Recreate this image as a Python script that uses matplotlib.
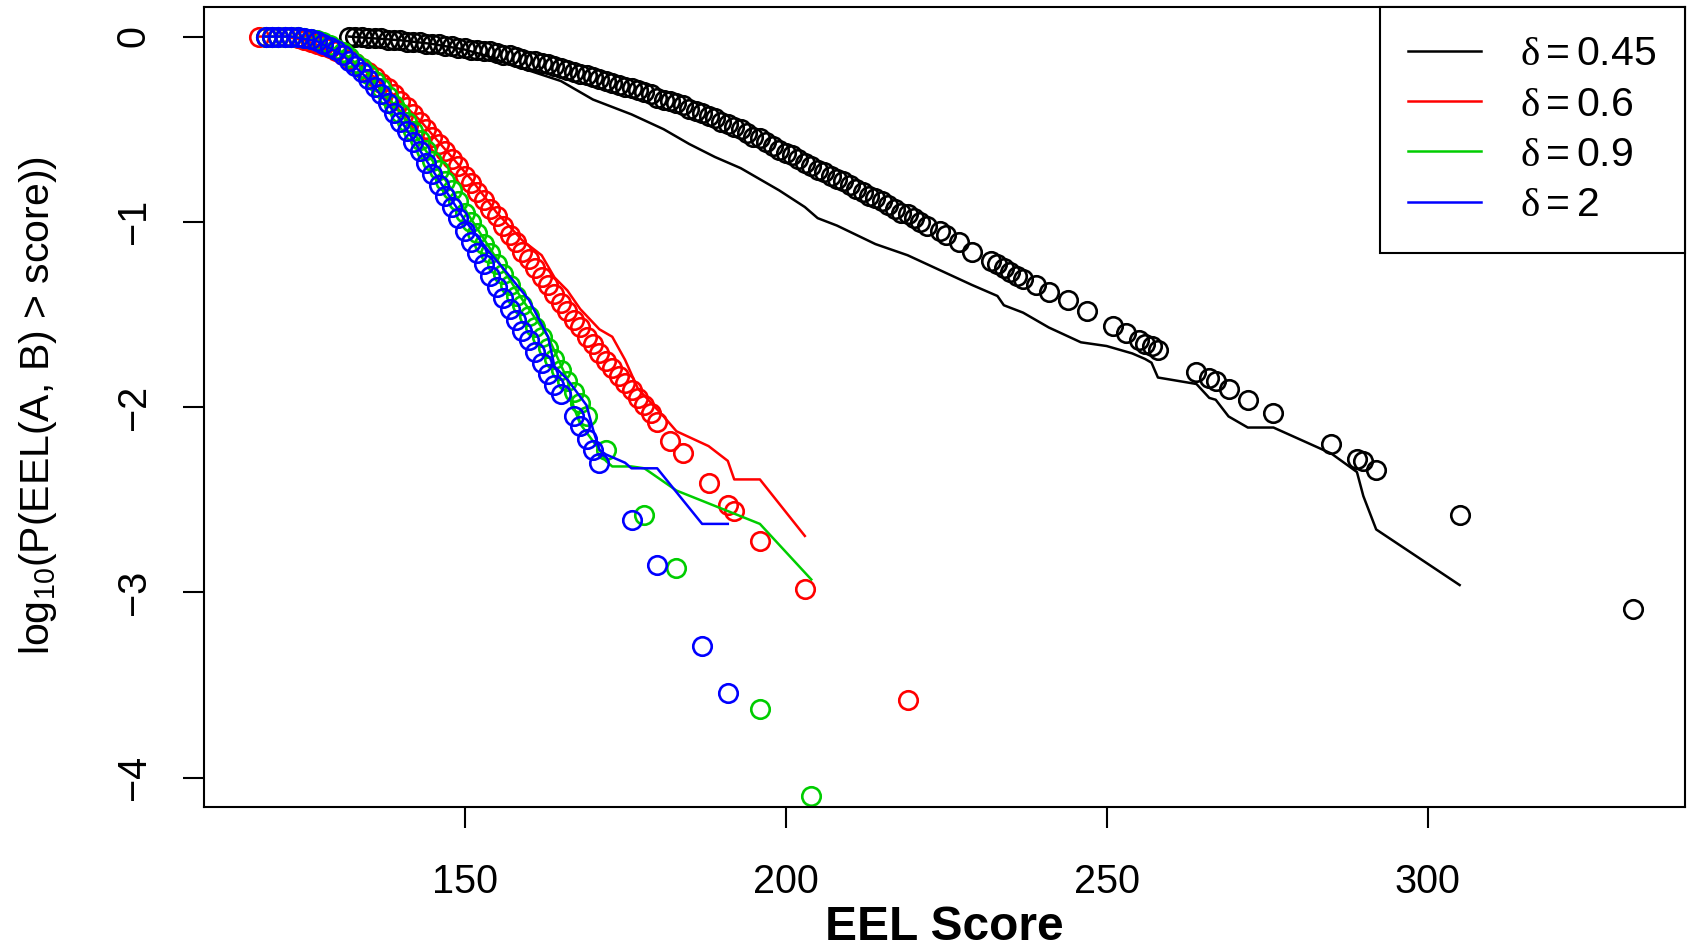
import matplotlib
matplotlib.use("Agg")
import matplotlib.pyplot as plt
from matplotlib.lines import Line2D

plt.rcParams['font.family'] = ['Liberation Sans', 'DejaVu Sans']
plt.rcParams['mathtext.fontset'] = 'custom'
plt.rcParams['mathtext.rm'] = 'Liberation Sans'
plt.rcParams['mathtext.it'] = 'Liberation Serif'
plt.rcParams['mathtext.sf'] = 'Liberation Sans'

# ---- data ----
labels = [r'$\delta = 0.45$', r'$\delta = 0.6$', r'$\delta = 0.9$', r'$\delta = 2$']
colors = ['black', '#FF0000', '#00CD00', '#0000FF']

# delta = 0.45 (black)
black_pts_x = list(range(132, 223)) + [224, 225, 227, 229, 232, 233, 234, 235, 236, 237, 239, 241,
                                       244, 247, 251, 253, 255, 256, 257, 258, 264, 266, 267, 269,
                                       272, 276, 285, 289, 290, 292, 305, 332]
black_pts_y = [0.00, 0.00, 0.00, -0.01, -0.01, -0.01, -0.02, -0.02, -0.02,
               -0.03, -0.03, -0.03, -0.04, -0.04, -0.04, -0.05, -0.05, -0.06, -0.06,
               -0.07, -0.07, -0.08, -0.08, -0.09, -0.10, -0.10, -0.11, -0.12, -0.13,
               -0.13, -0.14, -0.15, -0.16, -0.17, -0.18, -0.19, -0.20, -0.21, -0.22,
               -0.23, -0.24, -0.25, -0.26, -0.27, -0.28, -0.29, -0.30, -0.31, -0.33,
               -0.34, -0.35, -0.36, -0.37, -0.39, -0.40, -0.41, -0.43, -0.44, -0.46,
               -0.47, -0.49, -0.50, -0.52, -0.54, -0.55, -0.57, -0.59, -0.61, -0.63,
               -0.64, -0.66, -0.68, -0.70, -0.72, -0.73, -0.75, -0.77, -0.78, -0.80,
               -0.82, -0.84, -0.86, -0.87, -0.89, -0.91, -0.93, -0.95, -0.96, -0.98,
               -1.00, -1.02,
               -1.05, -1.07, -1.11, -1.16, -1.21, -1.23, -1.25, -1.27, -1.29, -1.31, -1.34, -1.38,
               -1.42, -1.48, -1.56, -1.60, -1.64, -1.66, -1.67, -1.69, -1.81, -1.84, -1.86, -1.90,
               -1.96, -2.03, -2.20, -2.28, -2.29, -2.34, -2.58, -3.09]
black_line_x = [132, 140, 145, 150, 153, 158, 165, 170, 176, 181, 185, 189, 193, 199, 203, 205,
                208, 214, 219, 224, 229, 233, 234, 237, 241, 246, 250, 254, 256, 257, 258, 264,
                266, 267, 269, 272, 276, 285, 289, 290, 292, 305]
black_line_y = [0.0, -0.02, -0.04, -0.07, -0.10, -0.16, -0.24, -0.34, -0.42, -0.50, -0.58, -0.65,
                -0.71, -0.83, -0.92, -0.98, -1.02, -1.12, -1.18, -1.26, -1.34, -1.40, -1.45, -1.49,
                -1.57, -1.65, -1.67, -1.71, -1.74, -1.76, -1.84, -1.875, -1.95, -1.96, -2.05, -2.11,
                -2.11, -2.25, -2.35, -2.48, -2.66, -2.96]

# delta = 0.6 (red)
red_pts_x = list(range(118, 181)) + [182, 184, 188, 191, 192, 196, 203, 219]
red_pts_y = [0, 0, 0, 0, 0,
             -0.005, -0.01, -0.02, -0.03, -0.04, -0.05, -0.06, -0.08,
             -0.10, -0.12, -0.14, -0.17, -0.19, -0.22, -0.25, -0.28, -0.31, -0.35,
             -0.38, -0.42, -0.46, -0.50, -0.54, -0.58, -0.62, -0.66, -0.70, -0.75,
             -0.79, -0.84, -0.88, -0.93, -0.97, -1.02, -1.07, -1.11, -1.16, -1.20,
             -1.25, -1.30, -1.34, -1.39, -1.44, -1.48, -1.53, -1.57, -1.62, -1.66,
             -1.71, -1.75, -1.79, -1.83, -1.87, -1.91, -1.95, -1.99, -2.03, -2.08,
             -2.18, -2.25, -2.41, -2.53, -2.56, -2.72, -2.98, -3.58]
red_line_x = [118, 122, 125, 130, 135, 140, 143, 147, 151, 155, 159, 162, 164, 166, 168, 171,
              173, 175, 177, 181, 183, 188, 191, 192, 196, 203]
red_line_y = [0.0, 0.0, -0.02, -0.08, -0.19, -0.35, -0.45, -0.61, -0.77, -0.95, -1.10, -1.18,
              -1.30, -1.37, -1.47, -1.58, -1.62, -1.745, -1.90, -2.05, -2.13, -2.21, -2.29,
              -2.39, -2.39, -2.695]

# delta = 0.9 (green)
green_pts_x = list(range(119, 170)) + [172, 178, 183, 196, 204]
green_pts_y = [0, 0, 0, 0, 0,
               -0.005, -0.01, -0.015, -0.02, -0.03, -0.045, -0.065,
               -0.085, -0.11, -0.14, -0.17, -0.20, -0.24, -0.28, -0.32, -0.37, -0.41,
               -0.46, -0.51, -0.56, -0.61, -0.67, -0.72, -0.78, -0.83, -0.89, -0.95,
               -1.00, -1.06, -1.12, -1.17, -1.23, -1.28, -1.34, -1.40, -1.45, -1.51,
               -1.57, -1.62, -1.68, -1.74, -1.80, -1.86, -1.92, -1.98, -2.05,
               -2.23, -2.58, -2.87, -3.63, -4.10]
green_line_x = [119, 123, 127, 131, 135, 140, 145, 150, 155, 159, 163, 166, 167, 168, 171, 172,
                173, 176, 178, 183, 196, 204]
green_line_y = [0, 0, -0.02, -0.085, -0.20, -0.41, -0.67, -0.93, -1.20, -1.42, -1.62, -1.85,
                -2.00, -2.09, -2.23, -2.29, -2.32, -2.32, -2.33, -2.45, -2.63, -2.93]

# delta = 2 (blue)
blue_pts_x = list(range(119, 166)) + [167, 168, 169, 170, 171, 176, 180, 187, 191]
blue_pts_y = [0, 0, 0, 0, 0,
              -0.005, -0.01, -0.015, -0.025, -0.04, -0.055, -0.075,
              -0.10, -0.13, -0.16, -0.19, -0.23, -0.27, -0.31, -0.36, -0.41, -0.46,
              -0.51, -0.57, -0.62, -0.68, -0.74, -0.80, -0.86, -0.92, -0.98, -1.05,
              -1.11, -1.17, -1.23, -1.29, -1.35, -1.41, -1.47, -1.53, -1.59, -1.64,
              -1.70, -1.76, -1.82, -1.88, -1.93,
              -2.05, -2.10, -2.17, -2.23, -2.30, -2.61, -2.85, -3.29, -3.54]
blue_line_x = [119, 123, 127, 131, 135, 140, 145, 150, 154, 156, 160, 163, 164, 166, 169, 170,
               171, 172, 175, 176, 180, 187, 191]
blue_line_y = [0, 0, -0.025, -0.10, -0.23, -0.45, -0.72, -0.99, -1.17, -1.25, -1.42, -1.62,
               -1.78, -1.85, -1.99, -2.12, -2.23, -2.255, -2.30, -2.33, -2.33, -2.63, -2.63]

series = [
    (black_pts_x, black_pts_y, black_line_x, black_line_y),
    (red_pts_x, red_pts_y, red_line_x, red_line_y),
    (green_pts_x, green_pts_y, green_line_x, green_line_y),
    (blue_pts_x, blue_pts_y, blue_line_x, blue_line_y),
]

fig = plt.figure(figsize=(16.87, 9.48), dpi=100)
ax = fig.add_axes([0.1209, 0.1487, 0.8779, 0.8444])

for (px, py, lx, ly), color in zip(series, colors):
    ax.plot(px, py, linestyle='none', marker='o', markersize=13.3,
            markerfacecolor='none', markeredgecolor=color, markeredgewidth=1.9)
    ax.plot(lx, ly, color=color, linewidth=1.8)

ax.set_xlim(109.4, 340.1)
ax.set_ylim(-4.158, 0.162)
ax.set_xticks([150, 200, 250, 300])
ax.set_yticks([0, -1, -2, -3, -4])
ax.set_yticklabels(['0', '\u22121', '\u22122', '\u22123', '\u22124'])
ax.tick_params(axis='both', direction='out', length=15, width=1.5, labelsize=28.5)
ax.tick_params(axis='x', pad=25)
ax.tick_params(axis='y', pad=22)
for lab in ax.get_yticklabels():
    lab.set_rotation(90)
    lab.set_va('center')
for s in ax.spines.values():
    s.set_linewidth(1.5)

ax.set_xlabel('EEL Score', fontsize=34.5, fontweight='bold')
ax.xaxis.set_label_coords(0.5, -0.15)
ax.xaxis.label.set_va('center')
ax.set_ylabel(r'$\mathregular{log_{10}}$(P(EEL(A, B) > score))', fontsize=29.5)
ax.yaxis.set_label_coords(-0.1123, 0.5014)
ax.yaxis.label.set_va('center')

handles = [Line2D([], [], color=c, linewidth=1.8) for c in colors]
leg = ax.legend(handles, labels, loc='upper right', fontsize=29.5, fancybox=False,
                edgecolor='black', framealpha=1, borderaxespad=0, handlelength=1.78,
                handletextpad=0.95, borderpad=0.7, labelspacing=0.3)
leg.get_frame().set_linewidth(1.5)

fig.savefig('out.png', dpi=100)
